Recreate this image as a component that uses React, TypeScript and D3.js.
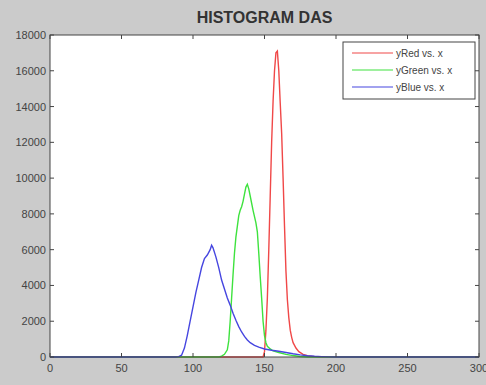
import React from "react";
import * as d3 from "d3";

const W = 486;
const H = 385;

const xTicks = [0, 50, 100, 150, 200, 250, 300];
const yTicks = [0, 2000, 4000, 6000, 8000, 10000, 12000, 14000, 16000, 18000];

const redX = [0, 149, 150, 151, 152, 153, 154, 155, 156, 157, 158, 159, 160, 161, 162, 163, 164, 165, 166, 167, 168, 169, 170, 172, 174, 177, 180, 185, 190, 300];
const redY = [0, 0, 300, 1500, 3300, 6000, 9000, 12000, 14300, 16000, 17000, 17100, 16000, 14200, 12500, 10000, 7300, 4800, 3200, 2200, 1500, 1100, 800, 500, 300, 150, 70, 20, 0, 0];

const greenX = [0, 118, 120, 122, 124, 125, 126, 127, 128, 129, 130, 131, 132, 133, 134, 135, 136, 137, 138, 139, 140, 142, 144, 145, 146, 147, 148, 149, 150, 151, 152, 154, 156, 160, 165, 170, 175, 180, 300];
const greenY = [0, 0, 50, 150, 400, 900, 2000, 3300, 4600, 5800, 6700, 7300, 7900, 8200, 8400, 8700, 9100, 9500, 9650, 9400, 9000, 8200, 7500, 7000, 5800, 4500, 3300, 2000, 1200, 800, 600, 450, 350, 250, 150, 80, 30, 0, 0];

const blueX = [0, 88, 90, 92, 94, 96, 98, 100, 102, 104, 106, 108, 110, 112, 113, 114, 116, 118, 120, 122, 124, 126, 128, 130, 132, 134, 136, 138, 140, 143, 146, 150, 155, 160, 165, 170, 175, 180, 185, 190, 195, 200, 300];
const blueY = [0, 0, 20, 100, 500, 1200, 2000, 2800, 3600, 4300, 5000, 5500, 5700, 6000, 6250, 6100, 5600, 5000, 4300, 3800, 3300, 2900, 2450, 2050, 1700, 1400, 1150, 950, 800, 650, 550, 450, 380, 320, 250, 180, 120, 70, 40, 20, 5, 0, 0];

const seriesNames = ["yRed vs. x", "yGreen vs. x", "yBlue vs. x"];
const seriesColors = ["#f04848", "#3ee23e", "#4646e0"];

export default function App() {
  const left = 50, right = 479, top = 35, bottom = 357;
  const x = d3.scaleLinear().domain([0, 300]).range([left, right]);
  const y = d3.scaleLinear().domain([0, 18000]).range([bottom, top]);
  const line = d3.line<[number, number]>().x((d) => x(d[0])).y((d) => y(d[1]));
  const series = [
    redX.map((v, i) => [v, redY[i]] as [number, number]),
    greenX.map((v, i) => [v, greenY[i]] as [number, number]),
    blueX.map((v, i) => [v, blueY[i]] as [number, number]),
  ];
  const font = "Arial, 'Liberation Sans', sans-serif";
  const tickColor = "#444";
  const tl = 4;
  return (
    <svg width={W} height={H} style={{ position: "fixed", left: 0, top: 0 }} fontFamily={font}>
      <rect x={0} y={0} width={W} height={H} fill="#cbcbcb" />
      <rect x={left} y={top} width={right - left} height={bottom - top} fill="#ffffff" />
      <text x={(left + right) / 2} y={23} textAnchor="middle" fontSize={16} fontWeight="bold" fill="#333">
        HISTOGRAM DAS
      </text>
      {series.map((s, i) => (
        <path key={i} d={line(s) || ""} fill="none" stroke={seriesColors[i]} strokeWidth={1.4} />
      ))}
      <rect x={left} y={top} width={right - left} height={bottom - top} fill="none" stroke="#444" strokeWidth={1} />
      {xTicks.map((t) => (
        <g key={"x" + t}>
          <line x1={x(t)} x2={x(t)} y1={bottom} y2={bottom - tl} stroke={tickColor} />
          <line x1={x(t)} x2={x(t)} y1={top} y2={top + tl} stroke={tickColor} />
          <text x={x(t)} y={bottom + 15} textAnchor="middle" fontSize={11} fill="#444">
            {t}
          </text>
        </g>
      ))}
      {yTicks.map((t) => (
        <g key={"y" + t}>
          <line x1={left} x2={left + tl} y1={y(t)} y2={y(t)} stroke={tickColor} />
          <line x1={right} x2={right - tl} y1={y(t)} y2={y(t)} stroke={tickColor} />
          <text x={left - 4} y={y(t) + 4} textAnchor="end" fontSize={11} fill="#444">
            {t}
          </text>
        </g>
      ))}
      <g>
        <rect x={343} y={42} width={132} height={57} fill="#ffffff" stroke="#444" strokeWidth={1} />
        {seriesNames.map((n, i) => (
          <g key={n}>
            <line x1={352} x2={393} y1={53 + i * 17} y2={53 + i * 17} stroke={seriesColors[i]} strokeWidth={1.2} />
            <text x={396} y={57 + i * 17} fontSize={10} fill="#444">
              {n}
            </text>
          </g>
        ))}
      </g>
    </svg>
  );
}
